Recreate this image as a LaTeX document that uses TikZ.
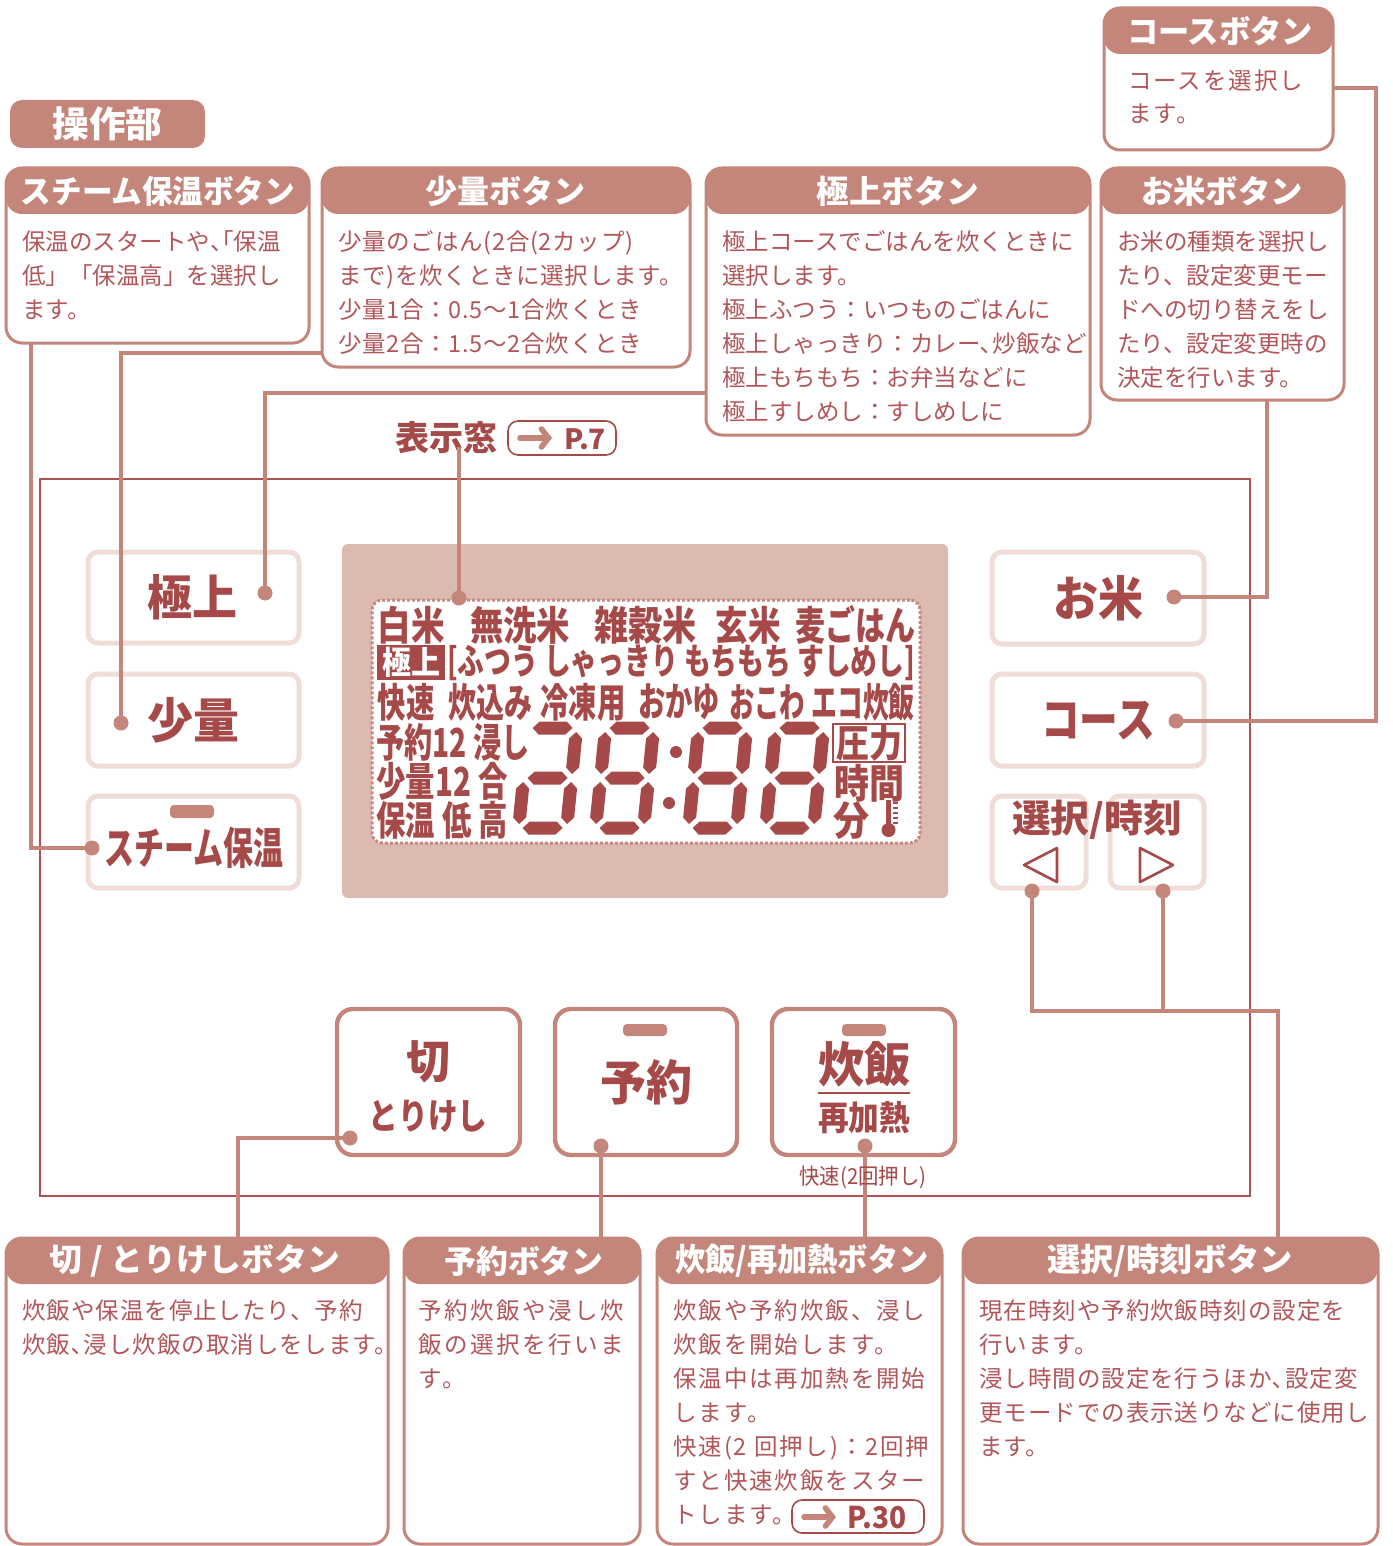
\documentclass[tikz,border=0pt]{standalone}
\usepackage{fontspec}
\setmainfont{Noto Sans CJK JP}
\usepackage{graphicx}
\usetikzlibrary{arrows.meta, positioning, fit, calc}

\definecolor{RoseHdr}{RGB}{196,133,123}
\definecolor{DeepRed}{RGB}{166,73,73}
\definecolor{TextRed}{RGB}{178,86,90}
\definecolor{PaleBtn}{RGB}{240,221,216}
\definecolor{LcdBack}{RGB}{220,186,178}
\definecolor{PanelRed}{RGB}{172,82,82}
\definecolor{DotRose}{RGB}{198,136,128}

% one pixel of the layout
\newlength\upx
\setlength\upx{0.5pt}
\newcommand{\fitw}[2]{\resizebox{#1\upx}{\height}{#2}}
\newcommand{\halfp}[1]{{\addfontfeatures{RawFeature=+halt}#1}}

% seven segment parts (local coords, u upwards)
\newcommand{\segH}[3]{\fill ({#1},{-(#3)}) -- ({#1+6.5},{-(#3)-6.5}) -- ({#2-6.5},{-(#3)-6.5}) -- ({#2},{-(#3)}) -- ({#2-6.5},{-(#3)+6.5}) -- ({#1+6.5},{-(#3)+6.5}) -- cycle;}
\newcommand{\segV}[3]{\fill ({#1},{-(#2)}) -- ({#1+6.5},{-(#2)-6.5}) -- ({#1+6.5},{-(#3)+6.5}) -- ({#1},{-(#3)}) -- ({#1-6.5},{-(#3)+6.5}) -- ({#1-6.5},{-(#2)-6.5}) -- cycle;}
\newcommand{\segA}{\segH{10}{50}{106}}
\newcommand{\segG}{\segH{10}{50}{56}}
\newcommand{\segD}{\segH{10}{50}{6}}
\newcommand{\segF}{\segV{6}{60}{102}}
\newcommand{\segB}{\segV{54}{60}{102}}
\newcommand{\segE}{\segV{6}{10}{52}}
\newcommand{\segC}{\segV{54}{10}{52}}
\newcommand{\lcddigit}[3]{\begin{scope}[shift={(#1,#2)}, xslant=0.1, DeepRed]
  \foreach \sg in {#3} {\csname seg\sg\endcsname}
\end{scope}}

\begin{document}
\begin{tikzpicture}[x=0.5pt, y=-0.5pt,
    callout/.style={draw=RoseHdr, line width=1.5pt, rounded corners=8pt, inner sep=0pt, fill=white,
      path picture={\fill[RoseHdr] (path picture bounding box.north west) rectangle ([yshift=-23pt]path picture bounding box.north east);}},
    hdr/.style={text=white, font=\bfseries\fontsize{16}{16}\selectfont, inner sep=0pt},
    desc/.style={text=TextRed, anchor=base west, align=left, inner sep=0pt, font=\fontsize{11.75}{17}\selectfont},
    lead/.style={draw=RoseHdr, line width=2pt},
    dot/.style={circle, fill=RoseHdr, inner sep=0pt, minimum size=7.5pt},
    sidebtn/.style={draw=PaleBtn, line width=2.5pt, rounded corners=5pt, inner sep=0pt},
    keybtn/.style={draw=RoseHdr, line width=2.2pt, rounded corners=8pt, inner sep=0pt},
    btnlbl/.style={text=DeepRed, font=\bfseries\fontsize{24}{24}\selectfont, inner sep=0pt},
    lcdtxt/.style={text=DeepRed, font=\bfseries\fontsize{20}{20}\selectfont, inner sep=0pt},
    lamp/.style={fill=RoseHdr, rounded corners=2pt, inner sep=0pt},
    refbox/.style={draw=DeepRed, line width=0.8pt, rounded corners=5pt, inner sep=0pt}]
\useasboundingbox (0,0) rectangle (1392,1546);

% Section tag
\node[fill=RoseHdr, rounded corners=6pt, inner sep=0pt, fit={(10,100) (205,148)}] (tagBox) {};
\node[hdr, font=\bfseries\fontsize{18}{18}\selectfont] (tagTxt) at (tagBox) {\fitw{110}{操作部}};

% Upper callouts (desc nodes sit on the baseline of their last line)
\node[callout, fit={(1104,8) (1333,150)}] (courseBox) {};
\node[hdr] (courseHdr) at (1220,31) {\fitw{186}{コースボタン}};
\node[desc, font=\fontsize{11.75}{16.5}\selectfont\addfontfeatures{LetterSpace=8}] (courseTxt) at (1128,123) {コースを選択し\\ます。};

\node[callout, fit={(6,168) (309,343)}] (steamBox) {};
\node[hdr] (steamHdr) at (158,191) {\fitw{274}{スチーム保温ボタン}};
\node[desc] (steamTxt) at (22,318) {保温のスタートや\halfp{、「}保温\\低」「保温高」を選択し\\ます。};

\node[callout, fit={(322,168) (690,367)}] (shoBox) {};
\node[hdr] (shoHdr) at (505,191) {\fitw{160}{少量ボタン}};
\node[desc, font=\fontsize{11.75}{17}\selectfont\addfontfeatures{LetterSpace=3}] (shoTxt) at (338,352) {少量のごはん(2合(2カップ)\\まで)を炊くときに選択します。\\少量1合：0.5～1合炊くとき\\少量2合：1.5～2合炊くとき};

\node[callout, fit={(706,168) (1090,435)}] (kyoBox) {};
\node[hdr] (kyoHdr) at (898,191) {\fitw{163}{極上ボタン}};
\node[desc] (kyoTxt) at (722,420) {極上コースでごはんを炊くときに\\選択します。\\極上ふつう：いつものごはんに\\極上しゃっきり：カレー､炒飯など\\極上もちもち：お弁当などに\\極上すしめし：すしめしに};

\node[callout, fit={(1101,168) (1344,400)}] (omeBox) {};
\node[hdr] (omeHdr) at (1222,191) {\fitw{162}{お米ボタン}};
\node[desc] (omeTxt) at (1117,386) {お米の種類を選択し\\たり、設定変更モー\\ドへの切り替えをし\\たり、設定変更時の\\決定を行います。};

% Display window label
\node[text=DeepRed, font=\bfseries\fontsize{17}{17}\selectfont, inner sep=0pt] (winLbl) at (446,438) {\fitw{102}{表示窓}};
\node[refbox, fit={(508,421) (616,455)}] (winRef) {};
\draw[RoseHdr, line width=2.8pt, line cap=round, -{Straight Barb[length=3.5pt, width=9pt, line cap=round]}] (520,438) -- (552,438);
\node[text=DeepRed, font=\bfseries\fontsize{14}{14}\selectfont, inner sep=0pt] (winPage) at (585,439) {\fitw{42}{P.7}};

% Panel
\node[draw=PanelRed, line width=1.3pt, inner sep=0pt, fit={(40,479) (1250,1196)}] (panel) {};

% LCD
\node[fill=LcdBack, rounded corners=3pt, inner sep=0pt, fit={(342,544) (948,898)}] (lcdFrame) {};
\node[fill=white, draw=DotRose, line width=1.5pt, dash pattern=on 1.5pt off 1pt, rounded corners=5pt, inner sep=0pt, fit={(372,600) (920,843)}] (lcdGlass) {};

\foreach \w/\cx/\ww [count=\i] in {白米/411/67, 無洗米/520/100, 雑穀米/645/102, 玄米/748/65, 麦ごはん/855/120}
  \node[lcdtxt] (lcdA\i) at (\cx,625) {\fitw{\ww}{\w}};
\node[fill=DeepRed, inner sep=0pt, fit={(377,645) (445,680)}] (lcdKyo) {};
\node[lcdtxt, text=white, font=\bfseries\fontsize{16}{16}\selectfont] (lcdKyoTxt) at (lcdKyo) {\fitw{58}{極上}};
\node[lcdtxt, font=\bfseries\fontsize{18}{18}\selectfont] (lcdB) at (681,663) {\fitw{468}{[ふつう しゃっきり もちもち すしめし]}};
\foreach \w/\cx/\ww [count=\i] in {快速/406/57, 炊込み/490/84, 冷凍用/583/85, おかゆ/679/82, おこわ/767/76, エコ炊飯/863/103}
  \node[lcdtxt] (lcdC\i) at (\cx,702) {\fitw{\ww}{\w}};
\node[lcdtxt] (lcdD) at (453,742) {\fitw{153}{予約12 浸し}};
\node[lcdtxt] (lcdE) at (442,781) {\fitw{131}{少量12 合}};
\node[lcdtxt] (lcdF) at (442,820) {\fitw{131}{保温 低 高}};

% Digits
\lcddigit{512}{834}{A,B,C,D,E,G}
\lcddigit{589}{834}{A,B,C,D,E,F,G}
\lcddigit{682}{834}{A,B,C,D,E,F,G}
\lcddigit{759}{834}{A,B,C,D,E,F,G}
\fill[DeepRed] (676,752) circle (3pt) (669,803) circle (3pt);

\node[draw=DeepRed, line width=1pt, inner sep=0pt, fit={(833,724) (905,762)}] (lcdAtsu) {};
\node[lcdtxt, font=\bfseries\fontsize{19}{19}\selectfont] (lcdAtsuTxt) at (lcdAtsu) {\fitw{66}{圧力}};
\node[lcdtxt] (lcdJikan) at (869,783) {\fitw{70}{時間}};
\node[lcdtxt] (lcdFun) at (851,821) {\fitw{36}{分}};
% thermometer
\fill[DeepRed] (886,800) rectangle (891,826);
\fill[DeepRed] (888.5,830) circle (3.5pt);
\foreach \ty in {803,808,813,818,823}
  \draw[DeepRed, line width=0.6pt] (893,\ty) -- (898,\ty);

% Left buttons
\node[sidebtn, fit={(88,552) (299,643)}] (kyoBtn) {};
\node[btnlbl] (kyoLbl) at (192,597) {\fitw{90}{極上}};
\node[sidebtn, fit={(88,674) (299,766)}] (shoBtn) {};
\node[btnlbl] (shoLbl) at (193,720) {\fitw{92}{少量}};
\node[sidebtn, fit={(88,796) (299,888)}] (steamBtn) {};
\node[lamp, fit={(170,805) (214,818)}] (steamLamp) {};
\node[btnlbl, font=\bfseries\fontsize{22}{22}\selectfont] (steamLbl) at (194,848) {\fitw{179}{スチーム保温}};

% Right buttons
\node[sidebtn, fit={(992,552) (1204,644)}] (omeBtn) {};
\node[btnlbl] (omeLbl) at (1098,598) {\fitw{90}{お米}};
\node[sidebtn, fit={(992,674) (1204,766)}] (courseBtn) {};
\node[btnlbl] (courseLbl) at (1098,721) {\fitw{114}{コース}};
\node[sidebtn, fit={(992,796) (1086,888)}] (selLBtn) {};
\node[sidebtn, fit={(1110,796) (1204,888)}] (selRBtn) {};
\node[btnlbl, font=\bfseries\fontsize{19}{19}\selectfont] (selLbl) at (1097,820) {\fitw{170}{選択/時刻}};
\draw[DeepRed, line width=1.3pt, line join=round] (1057,848) -- (1057,882) -- (1024,865) -- cycle;
\draw[DeepRed, line width=1.3pt, line join=round] (1140,848) -- (1140,882) -- (1173,865) -- cycle;

% Lower buttons
\node[keybtn, fit={(337,1009) (520,1155)}] (offBtn) {};
\node[btnlbl, font=\bfseries\fontsize{23}{23}\selectfont] (offLbl) at (428,1062) {\fitw{44}{切}};
\node[btnlbl, font=\bfseries\fontsize{18}{18}\selectfont] (offSub) at (428,1116) {\fitw{119}{とりけし}};
\node[keybtn, fit={(555,1009) (737,1155)}] (yoyBtn) {};
\node[lamp, fit={(623,1024) (667,1036)}] (yoyLamp) {};
\node[btnlbl] (yoyLbl) at (646,1082) {\fitw{92}{予約}};
\node[keybtn, fit={(772,1009) (955,1155)}] (suiBtn) {};
\node[lamp, fit={(842,1024) (886,1036)}] (suiLamp) {};
\node[btnlbl] (suiLbl) at (864,1064) {\fitw{92}{炊飯}};
\draw[DeepRed, line width=1.2pt] (818,1093) -- (910,1093);
\node[btnlbl, font=\bfseries\fontsize{17}{17}\selectfont] (suiSub) at (864,1118) {\fitw{92}{再加熱}};

% Lower callouts
\node[callout, fit={(6,1238) (388,1544)}] (offBox) {};
\node[hdr] (offHdr) at (195,1261) {\fitw{290}{切 / とりけしボタン}};
\node[desc, font=\fontsize{11.75}{17}\selectfont\addfontfeatures{LetterSpace=4}] (offTxt) at (22,1353) {炊飯や保温を停止したり、予約\\炊飯､浸し炊飯の取消しをします。};

\node[callout, fit={(404,1238) (640,1544)}] (yoyBox) {};
\node[hdr] (yoyHdr) at (524,1261) {\fitw{159}{予約ボタン}};
\node[desc, font=\fontsize{11.75}{17}\selectfont\addfontfeatures{LetterSpace=11}] (yoyTxt) at (418,1387) {予約炊飯や浸し炊\\飯の選択を行いま\\す。};

\node[callout, fit={(657,1238) (942,1544)}] (suiBox) {};
\node[hdr] (suiHdr) at (802,1261) {\fitw{253}{炊飯/再加熱ボタン}};
\node[desc, font=\fontsize{11.75}{17}\selectfont\addfontfeatures{LetterSpace=8}] (suiTxt) at (673,1523) {炊飯や予約炊飯、浸し\\炊飯を開始します。\\保温中は再加熱を開始\\します。\\快速(2 回押し)：2回押\\すと快速炊飯をスター\\トします。};
\node[refbox, fit={(792,1500) (924,1533)}] (suiRef) {};
\draw[RoseHdr, line width=2.8pt, line cap=round, -{Straight Barb[length=3.5pt, width=9pt, line cap=round]}] (804,1517) -- (836,1517);
\node[text=DeepRed, font=\bfseries\fontsize{15}{15}\selectfont, inner sep=0pt] (suiPage) at (877,1518) {\fitw{59}{P.30}};

\node[callout, fit={(963,1238) (1378,1544)}] (selBox) {};
\node[hdr] (selHdr) at (1170,1261) {\fitw{246}{選択/時刻ボタン}};
\node[desc, font=\fontsize{11.75}{17}\selectfont\addfontfeatures{LetterSpace=4}] (selTxt) at (979,1455) {現在時刻や予約炊飯時刻の設定を\\行います。\\浸し時間の設定を行うほか､設定変\\更モードでの表示送りなどに使用し\\ます。};

% Connector ends
\coordinate (steamTap) at (31,343);
\coordinate (shoTap) at (322,353);
\coordinate (kyoTap) at (706,393);
\coordinate (omeTap) at (1267,400);
\coordinate (courseTap) at (1333,88);
\coordinate (courseBend) at (1376,721);
\coordinate (selBend) at (1278,1011);
\coordinate (offTap) at (238,1238);

\node[dot] (winDot) at (459,598) {};
\node[dot] (kyoDot) at (265,593) {};
\node[dot] (shoDot) at (121,723) {};
\node[dot] (steamDot) at (92,848) {};
\node[dot] (omeDot) at (1174,597) {};
\node[dot] (courseDot) at (1176,721) {};
\node[dot] (selLDot) at (1032,891) {};
\node[dot] (selRDot) at (1163,891) {};
\node[dot] (offDot) at (350,1138) {};
\node[dot] (yoyDot) at (601,1146) {};
\node[dot] (suiDot) at (865,1146) {};

% Connectors
\draw[lead] (winDot.center |- winLbl.south) ++(0,-8) -- (winDot.center);
\draw[lead] (steamDot.center) -| (steamTap);
\draw[lead] (shoTap) -| (shoDot.center);
\draw[lead] (kyoTap) -| (kyoDot.center);
\draw[lead] (omeTap) |- (omeDot.center);
\draw[lead] (courseTap) -| (courseBend) -- (courseDot.center);
\draw[lead] (selLDot.center) |- (selBend) -- (selBend |- selBox.north);
\draw[lead] (selRDot.center) -- (selRDot.center |- selBend);
\draw[lead] (offDot.center) -| (offTap);
\draw[lead] (yoyDot.center) -- (yoyDot.center |- yoyBox.north);
\draw[lead] (suiDot.center) -- (suiDot.center |- suiBox.north);

\node[text=DeepRed, font=\fontsize{11}{11}\selectfont, inner sep=0pt] (suiNote) at (863,1177) {\fitw{127}{快速(2回押し)}};
\end{tikzpicture}
\end{document}
